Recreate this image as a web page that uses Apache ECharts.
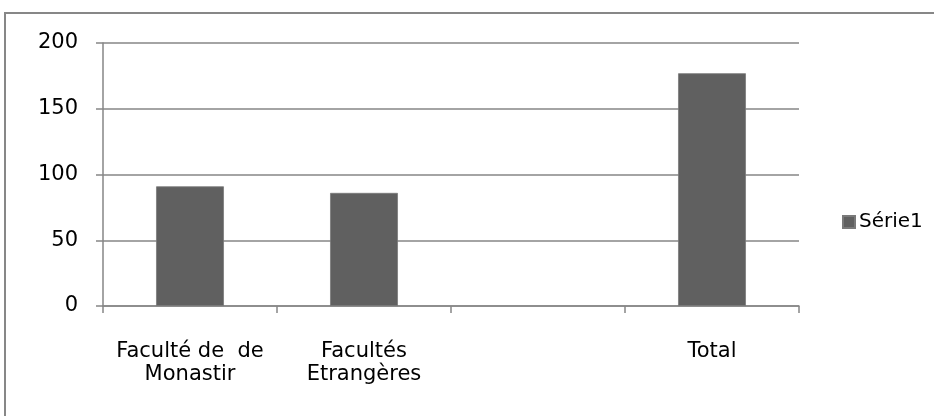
<!DOCTYPE html>
<html>
<head>
<meta charset="utf-8">
<script src="https://cdn.jsdelivr.net/npm/echarts@6/dist/echarts.min.js"></script>
<style>html,body{margin:0;padding:0;background:#fff;}#c{width:934px;height:416px;}</style>
</head>
<body>
<div id="c"></div>
<script>
const categories = ['Faculté de  de\nMonastir', 'Facultés\nEtrangères', '', 'Total'];
const seriesName = 'Série1';
const values = [91, 86, null, 177];
const yTicks = { min: 0, max: 200, interval: 50 };

const FONT = 'DejaVu Sans';
const chart = echarts.init(document.getElementById('c'), null, { renderer: 'canvas' });
chart.setOption({
  animation: false,
  backgroundColor: '#ffffff',
  graphic: [{
    type: 'rect',
    shape: { x: 5, y: 13, width: 940, height: 420 },
    style: { fill: 'none', stroke: '#878787', lineWidth: 2 },
    silent: true
  }],
  grid: { left: 103, right: 135, top: 43, bottom: 110, containLabel: false },
  legend: {
    data: [seriesName],
    left: 842,
    top: 212,
    padding: 0,
    orient: 'vertical',
    itemWidth: 12,
    itemHeight: 12,
    itemGap: 5,
    icon: 'rect',
    textStyle: { fontFamily: FONT, fontSize: 20, color: '#000', padding: [0, 0, 0, -1] }
  },
  xAxis: {
    type: 'category',
    data: categories,
    boundaryGap: true,
    axisLine: { show: true, lineStyle: { color: '#868686', width: 1.5 } },
    axisTick: { show: true, length: 7, alignWithLabel: false, lineStyle: { color: '#868686', width: 1.5 } },
    axisLabel: { interval: 0, margin: 34, fontFamily: FONT, fontSize: 21, color: '#000', lineHeight: 23 },
    splitLine: { show: false }
  },
  yAxis: {
    type: 'value',
    min: yTicks.min,
    max: yTicks.max,
    interval: yTicks.interval,
    axisLine: { show: true, lineStyle: { color: '#868686', width: 1.5 } },
    axisTick: { show: true, length: 7, lineStyle: { color: '#868686', width: 1.5 } },
    axisLabel: { margin: 25, fontFamily: FONT, fontSize: 21, color: '#000' },
    splitLine: { show: true, lineStyle: { color: '#868686', width: 1.5 } }
  },
  series: [{
    name: seriesName,
    type: 'bar',
    data: values,
    barWidth: '39%',
    itemStyle: { color: '#606060', borderColor: '#7a7a7a', borderWidth: 0.8 }
  }]
});
</script>
</body>
</html>
